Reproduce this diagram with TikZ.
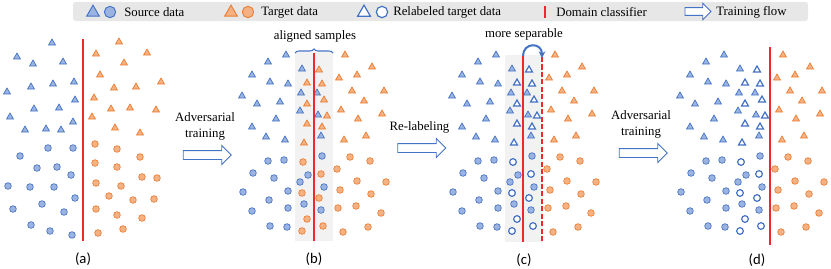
\documentclass[tikz,border=0pt]{standalone}
\usepackage{fontspec}
\setmainfont{Liberation Serif}
\newfontfamily\capfont{Carlito}
\usetikzlibrary{positioning, shapes, arrows.meta, decorations.pathreplacing}

\definecolor{srcline}{HTML}{4472C4}
\definecolor{srcfill}{HTML}{9AB3E0}
\definecolor{tgtline}{HTML}{ED7D31}
\definecolor{tgtfill}{HTML}{F4B183}
\definecolor{clsred}{HTML}{F0282D}
\definecolor{legendbg}{HTML}{E7E7E7}
\definecolor{bandgray}{HTML}{F2F2F2}

% point lists of panel (a)
\newcommand{\aTriSrc}{52/43,17/57,33/64,63/62,7/92,31/87,53/84,74/82,75/100,34/109,59/108,10/117,73/122,25/130,46/129,61/130}
\newcommand{\aCircSrc}{48/148,73/148,20/156,37/168,57/167,71/175,8/186,30/187,54/187,75/198,42/204,13/209,64/212,31/225,50/231,72/235}
\newcommand{\aTriTgt}{119/42,96/54,147/53,124/63,100/75,114/88,136/87,161/82,94/98,111/109,130/108,156/110,92/117,115/128,140/133}
\newcommand{\aCircTgt}{95/144,117/149,140/157,95/163,117/167,142/177,157/178,96/183,121/186,109/196,133/200,154/199,96/209,117/215,142/218,98/233,123/229}

% point lists of panel (b), reused shifted for (c) and (d)
\newcommand{\bTriSrc}{286/55,268/62,252/75,270/82,288/84,242/96,257/104,280/102,276/119,252/127,266/137,285/140,302/69,301/93,317/93,300/111,318/115,321/136}
\newcommand{\bTriTgt}{345/55,372/67,357/75,339/78,352/91,384/91,364/101,341/110,358/119,382/114,344/140,366/136}
\newcommand{\bTriMid}{319/70,307/83,322/84,307/104,324/100,327/116,307/124,322/127,304/143}
\newcommand{\bCircSrc}{268/161,284/160,253/173,274/178,243/192,288/191,269/200,288/208,252/211,270/226,287/227,308/175,300/182,322/156,324/187,304/204,321/210}
\newcommand{\bCircTgt}{337/169,340/190,338/208,343/232,350/157,370/161,357/181,371/194,356/206,368/227,381/213,386/182}
\newcommand{\bCircMid}{303/162,321/174,302/193,319/198,307/219,323/226,302/231}

% one marker node per point of a list
\newcommand{\pointset}[3]{%
  \foreach \px/\py [count=\i] in #3 {\node[#2] (#1\i) at (\px,\py) {};}}

\begin{document}
\begin{tikzpicture}[x=0.75pt, y=-0.75pt]
  % Define styles for nodes
  \tikzset{
    srctri/.style={regular polygon, regular polygon sides=3, draw=srcline, fill=srcfill, line width=0.5pt, minimum size=6pt, inner sep=0pt},
    srccirc/.style={circle, draw=srcline, fill=srcfill, line width=0.5pt, minimum size=5pt, inner sep=0pt},
    tgttri/.style={srctri, draw=tgtline, fill=tgtfill},
    tgtcirc/.style={srccirc, draw=tgtline, fill=tgtfill},
    reltri/.style={srctri, fill=white, line width=0.9pt},
    relcirc/.style={srccirc, fill=white, line width=0.9pt},
    classifier/.style={draw=clsred, line width=1pt},
    flow/.style={single arrow, draw=srcline, fill=white, line width=0.7pt, inner sep=3pt, single arrow head extend=3.75pt},
    annotation/.style={font=\fontsize{9.6}{12}\selectfont, inner sep=0pt},
    panellabel/.style={font=\capfont\fontsize{11}{13}\selectfont, inner sep=0pt}
  }
  \useasboundingbox (0,0) rectangle (831,268);

  % Legend
  \fill[legendbg, rounded corners=2pt] (73,2) rectangle (808,21);
  \node[srctri, minimum size=11pt, line width=0.7pt] (legsrct) at (93,12.5) {};
  \node[srccirc, minimum size=8.5pt, line width=0.7pt] (legsrcc) at (110,12) {};
  \node[annotation, anchor=west] (legsrc) at (124,12) {Source data};
  \node[tgttri, minimum size=11pt, line width=0.7pt] (legtgtt) at (231,12.5) {};
  \node[tgtcirc, minimum size=8.5pt, line width=0.7pt] (legtgtc) at (248,12) {};
  \node[annotation, anchor=west] (legtgt) at (261,12) {Target data};
  \node[reltri, minimum size=11pt, line width=0.9pt] (legrelt) at (364,12.5) {};
  \node[relcirc, minimum size=8.5pt, line width=0.9pt] (legrelc) at (382,12) {};
  \node[annotation, anchor=west] (legrel) at (393,12) {Relabeled target data};
  \draw[classifier] (545,6) -- (545,18);
  \node[annotation, anchor=west] (legcls) at (556,12) {Domain classifier};
  \node[flow, minimum height=19.5pt, inner sep=2.6pt, single arrow head extend=3.2pt] (legflow) at (696,11.5) {};
  \node[annotation, anchor=west] (legfl) at (716,12) {Training flow};

  % Panel (a)
  \pointset{ast}{srctri}{\aTriSrc}
  \pointset{asc}{srccirc}{\aCircSrc}
  \pointset{att}{tgttri}{\aTriTgt}
  \pointset{atc}{tgtcirc}{\aCircTgt}
  \draw[classifier] (83,39) -- (83,241);
  \node[panellabel] (lbla) at (83,259) {(a)};

  % Panel (b)
  \fill[bandgray] (295,52) rectangle (333,241);
  \pointset{bst}{srctri}{\bTriSrc}
  \pointset{btt}{tgttri}{\bTriTgt}
  \pointset{bmt}{tgttri}{\bTriMid}
  \pointset{bsc}{srccirc}{\bCircSrc}
  \pointset{btc}{tgtcirc}{\bCircTgt}
  \pointset{bmc}{tgtcirc}{\bCircMid}
  \draw[classifier] (314,53) -- (314,241);
  \draw[srcline, line width=0.8pt, decorate, decoration={brace, amplitude=3pt}] (295,53) -- (333,53);
  \node[annotation] (aligned) at (315,36) {aligned samples};
  \node[panellabel] (lblb) at (314,259) {(b)};

  % Panel (c)
  \begin{scope}[shift={(210,0)}]
    \fill[bandgray] (295,55) rectangle (333,242);
    \pointset{cst}{srctri}{\bTriSrc}
    \pointset{ctt}{tgttri}{\bTriTgt}
    \pointset{cmt}{reltri}{\bTriMid}
    \pointset{csc}{srccirc}{\bCircSrc}
    \pointset{ctc}{tgtcirc}{\bCircTgt}
    \pointset{cmc}{relcirc}{\bCircMid}
  \end{scope}
  \draw[classifier] (523,55) -- (523,242);
  \draw[classifier, line width=1.5pt, dash pattern=on 3.8pt off 1.8pt] (542,57) -- (542,242);
  \coordinate (oldtop) at (523,56);
  \coordinate (newtop) at (542,58);
  \draw[srcline, line width=1.5pt, -{Stealth[length=5pt, width=5pt]}] (oldtop) .. controls (523,42) and (542,42) .. (newtop);
  \node[annotation] (separable) at (524,34) {more separable};
  \node[panellabel] (lblc) at (524,260) {(c)};

  % Panel (d)
  \begin{scope}[shift={(438,0)}]
    \pointset{dst}{srctri}{\bTriSrc}
    \pointset{dtt}{tgttri}{\bTriTgt}
    \pointset{dmt}{reltri}{\bTriMid}
    \pointset{dsc}{srccirc}{\bCircSrc}
    \pointset{dtc}{tgtcirc}{\bCircTgt}
    \pointset{dmc}{relcirc}{\bCircMid}
  \end{scope}
  \draw[classifier] (770,47) -- (770,245);
  \node[panellabel] (lbld) at (757,260) {(d)};

  % Training flow arrows with their labels
  \node[flow, minimum height=36pt] (flowa) at (205,155) {};
  \node[flow, minimum height=36pt] (flowb) at (419.5,148) {};
  \node[flow, minimum height=36pt] (flowc) at (641,153) {};
  \node[annotation, align=center, above=7pt of flowa] (advA) {Adversarial\\training};
  \node[annotation, above=7pt of flowb] (relab) {Re-labeling};
  \node[annotation, align=center, above=7pt of flowc] (advB) {Adversarial\\training};
\end{tikzpicture}
\end{document}
